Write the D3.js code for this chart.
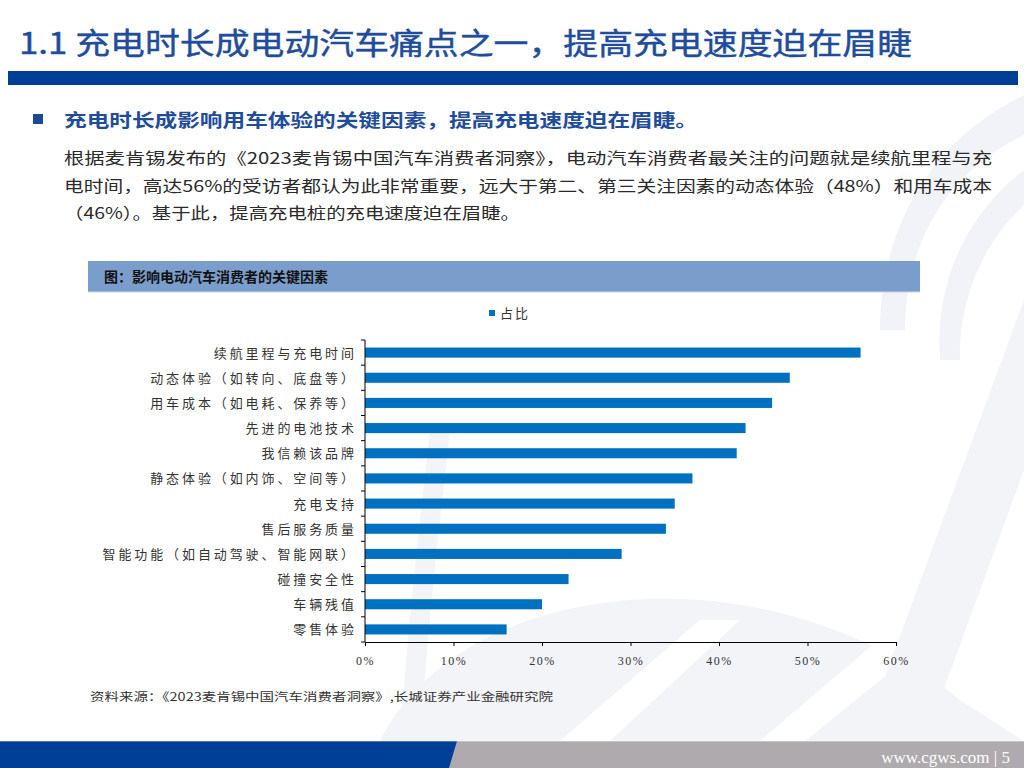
<!DOCTYPE html>
<html><head><meta charset="utf-8">
<script src="https://cdn.jsdelivr.net/npm/d3@7"></script>
<style>
html,body{margin:0;padding:0;background:#fff;}
svg{display:block;}
</style></head>
<body>
<svg id="c" width="1024" height="768"></svg>
<script>
const categories = ["续航里程与充电时间","动态体验（如转向、底盘等）","用车成本（如电耗、保养等）","先进的电池技术","我信赖该品牌","静态体验（如内饰、空间等）","充电支持","售后服务质量","智能功能（如自动驾驶、智能网联）","碰撞安全性","车辆残值","零售体验"];
const shares = [56,48,46,43,42,37,35,34,29,23,20,16];
const xTicks = [0,10,20,30,40,50,60];
const seriesName = "占比";
const titleText = "1.1 充电时长成电动汽车痛点之一，提高充电速度迫在眉睫";
const headingText = "充电时长成影响用车体验的关键因素，提高充电速度迫在眉睫。";
const bodyLines = ["根据麦肯锡发布的《2023麦肯锡中国汽车消费者洞察》，电动汽车消费者最关注的问题就是续航里程与充","电时间，高达56%的受访者都认为此非常重要，远大于第二、第三关注因素的动态体验（48%）和用车成本","（46%）。基于此，提高充电桩的充电速度迫在眉睫。"];
const chartTitle = "图：影响电动汽车消费者的关键因素";
const sourceText = "资料来源：《2023麦肯锡中国汽车消费者洞察》,长城证券产业金融研究院";
const footerText = "www.cgws.com | 5";

const svg = d3.select("#c");
const cjk = "'Noto Sans CJK SC','Noto Sans',sans-serif";
const serif = "'Liberation Serif','DejaVu Serif',serif";

// background watermark
const bg = svg.append("g");
bg.append("path").attr("d","M1024,95 C930,140 880,230 880,330 L905,330 C905,240 950,170 1024,135 Z").attr("fill","#f1f3f8");
bg.append("path").attr("d","M1024,170 C960,220 935,290 940,360 L960,360 C958,300 985,240 1024,205 Z").attr("fill","#f1f3f8");
bg.append("path").attr("d","M380,741 C430,640 560,590 700,600 C800,607 900,650 960,700 L1024,741 Z").attr("fill","#f3f4f8");
bg.append("path").attr("d","M560,741 L700,620 L740,620 L610,741 Z").attr("fill","#fff");
bg.append("path").attr("d","M760,741 L890,630 L930,640 L805,741 Z").attr("fill","#fff");
bg.append("path").attr("d","M1024,300 L880,690 L940,700 L1024,470 Z").attr("fill","#f3f4f8");
bg.append("path").attr("d","M430,430 C420,520 410,600 400,741 L420,741 C430,600 440,520 450,430 Z").attr("fill","#f3f4f8");

// title
svg.append("text").attr("x",19).attr("y",54).attr("font-family",cjk).attr("font-size",30)
  .attr("fill","#1f4d9b").attr("stroke","#1f4d9b").attr("stroke-width",0.4)
  .attr("textLength",893).attr("lengthAdjust","spacingAndGlyphs").text(titleText);
svg.append("rect").attr("x",8).attr("y",71).attr("width",1010).attr("height",14).attr("fill","#003f98");

// bullet heading
svg.append("rect").attr("x",33).attr("y",114).attr("width",10).attr("height",10).attr("fill","#1d4a96");
svg.append("text").attr("x",64).attr("y",127).attr("font-family",cjk).attr("font-size",18).attr("font-weight","bold")
  .attr("fill","#1f4d9b").attr("textLength",634).attr("lengthAdjust","spacingAndGlyphs").text(headingText);
const bodyLens = [928,928,456];
bodyLines.forEach((l,i)=>{
  svg.append("text").attr("x",64).attr("y",164+i*27.5).attr("font-family",cjk).attr("font-size",16)
    .attr("fill","#2a2a2a").attr("textLength",bodyLens[i]).attr("lengthAdjust","spacingAndGlyphs").text(l);
});

// chart title box
svg.append("rect").attr("x",88).attr("y",261).attr("width",832).attr("height",31).attr("fill","#7b9dcb");
svg.append("line").attr("x1",88).attr("x2",920).attr("y1",292).attr("y2",292).attr("stroke","#c5d3ea").attr("stroke-width",1);
svg.append("text").attr("x",104).attr("y",282).attr("font-family",cjk).attr("font-size",14).attr("font-weight","bold")
  .attr("fill","#111").text(chartTitle);

// legend
svg.append("rect").attr("x",489).attr("y",310).attr("width",6).attr("height",6).attr("fill","#0070c0");
svg.append("text").attr("x",500).attr("y",318).attr("font-family",cjk).attr("font-size",13).attr("fill","#333").attr("letter-spacing",2).text(seriesName);

// scales
const x = d3.scaleLinear().domain([0,60]).range([365,896]);
const y = d3.scaleBand().domain(categories).range([340,642]).paddingInner(0.6).paddingOuter(0.3);

const g = svg.append("g");
g.selectAll("rect.bar").data(categories).enter().append("rect").attr("class","bar")
  .attr("x",x(0)).attr("y",d=>y(d)).attr("height",y.bandwidth())
  .attr("width",(d,i)=>x(shares[i])-x(0)).attr("fill","#0070c0");

// y axis
g.append("line").attr("x1",x(0)).attr("x2",x(0)).attr("y1",340).attr("y2",642).attr("stroke","#000");
const bounds = d3.range(categories.length+1).map(i=>340+i*y.step());
g.selectAll("line.yt").data(bounds).enter().append("line").attr("class","yt")
  .attr("x1",x(0)-4).attr("x2",x(0)).attr("y1",d=>d).attr("y2",d=>d).attr("stroke","#000");
g.selectAll("text.yl").data(categories).enter().append("text").attr("class","yl")
  .attr("x",354).attr("y",d=>y(d)+y.bandwidth()/2+5).attr("text-anchor","end")
  .attr("font-family",cjk).attr("font-size",13).attr("fill","#333").attr("letter-spacing",2.9)
  .attr("dx",2.9).text(d=>d);

// x axis
const xAxis = d3.axisBottom(x).tickValues(xTicks).tickSize(4).tickFormat(d=>d+"%");
const xa = g.append("g").attr("transform","translate(0,642)").call(xAxis);
xa.select(".domain").attr("stroke","#000");
xa.selectAll(".tick line").attr("stroke","#000");
xa.selectAll(".tick text").attr("font-family",serif).attr("font-size",12).attr("fill","#333")
  .attr("letter-spacing",1.5).attr("y",14);

// source
svg.append("text").attr("x",90).attr("y",701).attr("font-family",cjk).attr("font-size",11.5).attr("fill","#333")
  .attr("textLength",463).attr("lengthAdjust","spacingAndGlyphs").text(sourceText);

// footer
svg.append("rect").attr("x",0).attr("y",741).attr("width",1024).attr("height",27).attr("fill","#aeaaad");
svg.append("path").attr("d","M0,741 L457,741 L449,768 L0,768 Z").attr("fill","#003f98");
svg.append("line").attr("x1",0).attr("x2",1024).attr("y1",741).attr("y2",741).attr("stroke","#fff").attr("stroke-width",0.6);
svg.append("text").attr("x",1010).attr("y",763).attr("text-anchor","end").attr("font-family",serif).attr("font-size",17)
  .attr("fill","#fff").text(footerText);
</script>
</body></html>
